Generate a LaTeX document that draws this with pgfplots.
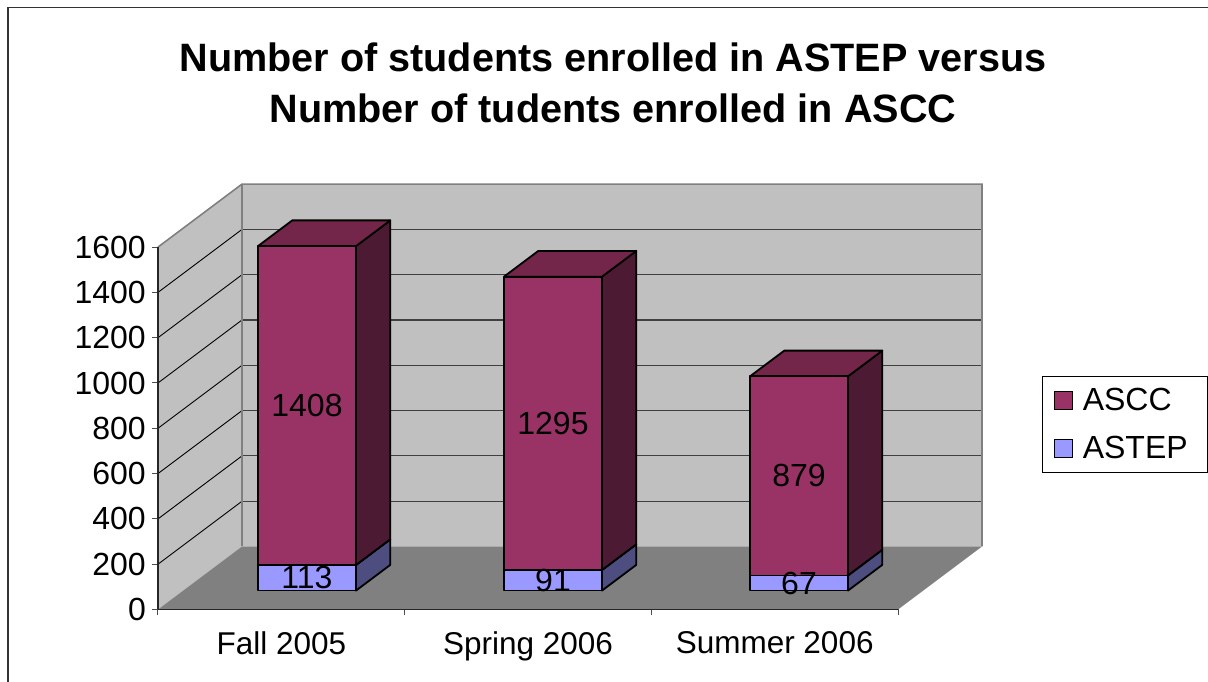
\documentclass[border=0pt]{standalone}
\usepackage{fontspec}
\setmainfont{Liberation Sans}
\usepackage{pgfplots}
\pgfplotsset{compat=1.18}
\definecolor{wall}{HTML}{C0C0C0}
\definecolor{floorc}{HTML}{808080}
\definecolor{asccF}{HTML}{993366}
\definecolor{asccS}{HTML}{4D1A33}
\definecolor{asccT}{HTML}{732649}
\definecolor{astepF}{HTML}{9999FF}
\definecolor{astepS}{HTML}{4D4D80}
\definecolor{astepT}{HTML}{7373BF}
% #1,#2 bar x range; #3,#4 bottom and top of the segment; #5 front, #6 side, #7 top colour
\newcommand{\Seg}[7]{%
  \addplot3[draw=black,fill=#6,line width=1.8pt,line join=round,no markers,forget plot] coordinates {(#2,0.30,#3) (#2,0.708,#3) (#2,0.708,#4) (#2,0.30,#4)} -- cycle;
  \addplot3[draw=black,fill=#7,line width=1.8pt,line join=round,no markers,forget plot] coordinates {(#1,0.30,#4) (#2,0.30,#4) (#2,0.708,#4) (#1,0.708,#4)} -- cycle;
  \addplot3[draw=black,fill=#5,line width=1.8pt,line join=round,no markers,forget plot] coordinates {(#1,0.30,#3) (#2,0.30,#3) (#2,0.30,#4) (#1,0.30,#4)} -- cycle;
}
\newcommand{\Grid}[1]{%
  \addplot3[draw=black,line width=0.9pt,no markers,forget plot] coordinates {(0,0,#1) (0,1,#1)};
  \addplot3[draw=black!75,line width=1.1pt,no markers,forget plot] coordinates {(0,1,#1) (3,1,#1)};
}
\begin{document}
\begin{tikzpicture}[x=1pt,y=1pt]
\path[use as bounding box] (0,0) rectangle (1208,682);
\draw[black!80,line width=1.5pt] (8,0) -- (8,674.5) -- (1208,674.5);
\node[anchor=base,font=\fontsize{39.6}{42}\selectfont\bfseries] at (613,610) {Number of students enrolled in ASTEP versus};
\node[anchor=base,font=\fontsize{39.6}{42}\selectfont\bfseries] at (613,559) {Number of tudents enrolled in ASCC};

\begin{axis}[
  at={(158pt,72.5pt)},anchor=origin,
  x={(246.667pt,0pt)},y={(84pt,63pt)},z={(0pt,0.2265pt)},
  xmin=0,xmax=3,ymin=0,ymax=1,zmin=0,zmax=1600,
  hide axis,clip=false]
  % walls and floor
  \addplot3[fill=wall,draw=none,no markers,forget plot] coordinates {(0,0,0) (0,1,0) (0,1,1600) (0,0,1600)} -- cycle;
  \addplot3[fill=wall,draw=none,no markers,forget plot] coordinates {(0,1,0) (3,1,0) (3,1,1600) (0,1,1600)} -- cycle;
  \Grid{200}\Grid{400}\Grid{600}\Grid{800}\Grid{1000}\Grid{1200}\Grid{1400}
  \addplot3[draw=floorc,line width=1.6pt,no markers,forget plot] coordinates {(0,0,1600) (0,1,1600) (3,1,1600) (3,1,0)};
  \addplot3[draw=floorc,line width=1.6pt,no markers,forget plot] coordinates {(0,1,0) (0,1,1600)};
  \addplot3[fill=floorc,draw=none,no markers,forget plot] coordinates {(0,0,0) (3,0,0) (3,1,0) (0,1,0)} -- cycle;
  % Fall 2005: ASTEP 113, ASCC 1408
  \Seg{0.3032}{0.7005}{0}{113}{astepF}{astepS}{astepT}
  \Seg{0.3032}{0.7005}{113}{1521}{asccF}{asccS}{asccT}
  % Spring 2006: ASTEP 91, ASCC 1295
  \Seg{1.3005}{1.6978}{0}{91}{astepF}{astepS}{astepT}
  \Seg{1.3005}{1.6978}{91}{1386}{asccF}{asccS}{asccT}
  % Summer 2006: ASTEP 67, ASCC 879
  \Seg{2.2978}{2.6951}{0}{67}{astepF}{astepS}{astepT}
  \Seg{2.2978}{2.6951}{67}{946}{asccF}{asccS}{asccT}
  \begin{scope}[every node/.style={font=\fontsize{32}{34}\selectfont,inner sep=0pt}]
  \node at (axis cs:0.5019,0.30,56.5) {113};
  \node at (axis cs:0.5019,0.30,817) {1408};
  \node at (axis cs:1.4992,0.30,45.5) {91};
  \node at (axis cs:1.4992,0.30,738.5) {1295};
  \node at (axis cs:2.4965,0.30,33.5) {67};
  \node at (axis cs:2.4965,0.30,506.5) {879};
  \end{scope}
\end{axis}

\begin{axis}[
  at={(158pt,72.5pt)},anchor=origin,
  x={(246.667pt,0pt)},y={(0pt,0.2265pt)},
  xmin=0,xmax=3,ymin=0,ymax=1600,
  axis x line*=bottom,axis y line*=left,
  axis line style={black!85,line width=1.1pt,-},
  xtick={0.5,1.5,2.5},
  xticklabels={Fall 2005,Spring 2006,Summer 2006},
  minor xtick={0,1,2,3},
  ytick={0,200,...,1600},
  tick align=outside,
  major x tick style={draw=none},
  minor tick length=6pt,
  major tick length=6pt,
  tick style={black!70,line width=1pt},
  /pgf/number format/assume math mode=true,
  /pgf/number format/set thousands separator={},
  yticklabel style={font=\fontsize{32}{34}\selectfont,inner sep=0pt,xshift=-6pt},
  xticklabel style={font=\fontsize{31.5}{33}\selectfont,inner sep=0pt,yshift=-15.5pt},
  legend style={at={(1.1946,0.6443)},anchor=north west,draw=black,line width=1pt,
    font=\fontsize{32}{34}\selectfont,row sep=20pt,inner xsep=11pt,inner ysep=10pt},
  legend cell align=left,
  legend image code/.code={\draw[#1,line width=1.5pt] (0pt,-9pt) rectangle (18pt,9pt); \path (0pt,0pt) (26pt,0pt);},
]
  \addlegendimage{fill=asccF,draw=black}
  \addlegendentry{ASCC}
  \addlegendimage{fill=astepF,draw=black}
  \addlegendentry{ASTEP\hspace*{7pt}}
\end{axis}
\end{tikzpicture}
\end{document}
